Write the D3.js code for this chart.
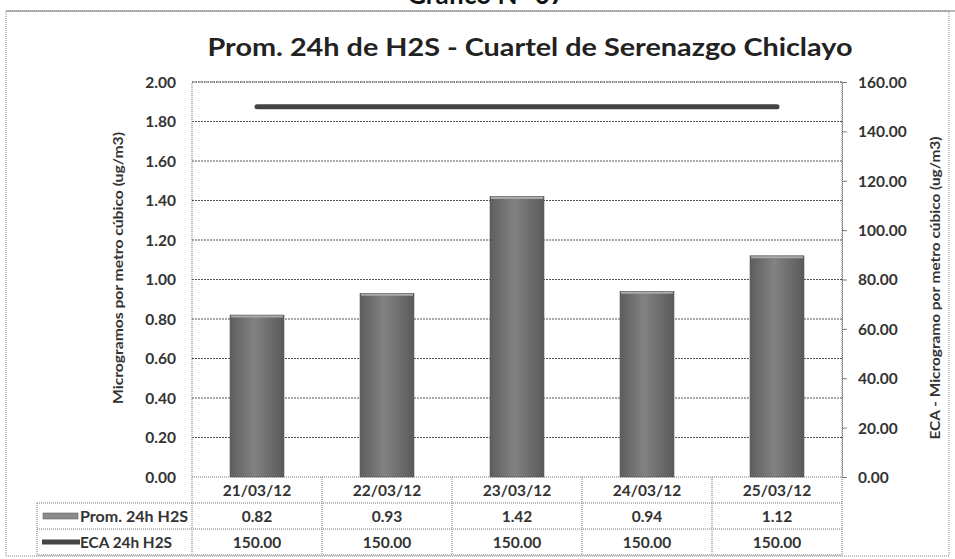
<!DOCTYPE html>
<html>
<head>
<meta charset="utf-8">
<script src="https://cdn.jsdelivr.net/npm/d3@7"></script>
<style>
body { margin: 0; background: #fff; }
svg text { font-family: Lato, "Open Sans", sans-serif; font-weight: bold; }
</style>
</head>
<body>
<svg width="955" height="559"></svg>
<script>
// Prom. 24h H2S chart with data table

var categories = ['21/03/12', '22/03/12', '23/03/12', '24/03/12', '25/03/12']
var promValues = [0.82, 0.93, 1.42, 0.94, 1.12]
var ecaValues = [150.00, 150.00, 150.00, 150.00, 150.00]
var leftTicks = [0, 0.2, 0.4, 0.6, 0.8, 1.0, 1.2, 1.4, 1.6, 1.8, 2.0]
var rightTicks = [0, 20, 40, 60, 80, 100, 120, 140, 160]
var seriesNames = ['Prom. 24h H2S', 'ECA 24h H2S']

var svg = d3.select('svg')

var plot = {left: 192, right: 842, top: 82, bottom: 477}
var rowH = 26

var x = d3.scaleBand().domain(categories).range([plot.left, plot.right]).paddingInner(0).paddingOuter(0)
var yL = d3.scaleLinear().domain([0, 2]).range([plot.bottom, plot.top])
var yR = d3.scaleLinear().domain([0, 160]).range([plot.bottom, plot.top])

var defs = svg.append('defs')
var grad = defs.append('linearGradient').attr('id', 'barGrad')
	.attr('x1', 0).attr('x2', 1).attr('y1', 0).attr('y2', 0)
grad.append('stop').attr('offset', '0%').attr('stop-color', '#5e5e5e')
grad.append('stop').attr('offset', '45%').attr('stop-color', '#828282')
grad.append('stop').attr('offset', '100%').attr('stop-color', '#5a5a5a')

// outer frame
svg.append('rect').attr('x', 6).attr('y', 11).attr('width', 943).attr('height', 545)
	.attr('fill', 'none').attr('stroke', '#888').attr('stroke-dasharray', '1,1')
svg.append('line').attr('x1', 6).attr('x2', 955).attr('y1', 11).attr('y2', 11)
	.attr('stroke', '#777').attr('stroke-width', 1.2)

// heading cut at top (as in the scan)
svg.append('text').attr('x', 486).attr('y', 4).attr('text-anchor', 'middle')
	.attr('font-size', 26).attr('fill', '#111').text('Gráfico N° 07')

svg.append('text').attr('x', 530).attr('y', 56).attr('text-anchor', 'middle')
	.attr('font-size', 25).attr('fill', '#222')
	.attr('textLength', 645).attr('lengthAdjust', 'spacingAndGlyphs')
	.text('Prom. 24h de H2S - Cuartel de Serenazgo Chiclayo')

// plot border
svg.append('rect').attr('x', plot.left).attr('y', plot.top)
	.attr('width', plot.right - plot.left).attr('height', plot.bottom - plot.top)
	.attr('fill', 'none').attr('stroke', '#777').attr('stroke-dasharray', '1,1')

// gridlines
svg.append('g').selectAll('line').data(leftTicks.slice(1)).enter().append('line')
	.attr('x1', plot.left).attr('x2', plot.right)
	.attr('y1', function(d) { return yL(d) }).attr('y2', function(d) { return yL(d) })
	.attr('stroke', '#555').attr('stroke-width', 1).attr('stroke-dasharray', '2,1')

// left axis labels
var axL = svg.append('g').attr('transform', 'translate(' + plot.left + ',0)')
	.call(d3.axisLeft(yL).tickValues(leftTicks).tickSize(0).tickPadding(16).tickFormat(d3.format('.2f')))
axL.select('.domain').remove()
axL.selectAll('text').attr('font-size', 15.5).attr('fill', '#333')
	.attr('font-family', 'Lato, sans-serif').attr('font-weight', 'bold').attr('dy', '0.35em')

// right axis
var axR = svg.append('g').attr('transform', 'translate(' + plot.right + ',0)')
	.call(d3.axisRight(yR).tickValues(rightTicks).tickSize(5).tickPadding(11).tickFormat(d3.format('.2f')))
axR.select('.domain').attr('stroke', '#777').attr('stroke-dasharray', '1,1')
axR.selectAll('.tick line').attr('stroke', '#777')
axR.selectAll('text').attr('font-size', 15.5).attr('fill', '#333')
	.attr('font-family', 'Lato, sans-serif').attr('font-weight', 'bold').attr('dy', '0.35em')

// axis titles
svg.append('text').attr('transform', 'translate(123,268) rotate(-90)')
	.attr('text-anchor', 'middle').attr('font-size', 13.5).attr('fill', '#333')
	.attr('textLength', 272).attr('lengthAdjust', 'spacingAndGlyphs')
	.text('Microgramos por metro cúbico (ug/m3)')
svg.append('text').attr('transform', 'translate(940,288) rotate(-90)')
	.attr('text-anchor', 'middle').attr('font-size', 13.5).attr('fill', '#333')
	.attr('textLength', 303).attr('lengthAdjust', 'spacingAndGlyphs')
	.text('ECA - Microgramo por metro cúbico (ug/m3)')

// bars
var barW = x.bandwidth() * 0.415
svg.append('g').selectAll('rect').data(promValues).enter().append('rect')
	.attr('x', function(d, i) { return x(categories[i]) + x.bandwidth() / 2 - barW / 2 })
	.attr('y', function(d) { return yL(d) })
	.attr('width', barW)
	.attr('height', function(d) { return plot.bottom - yL(d) })
	.attr('fill', 'url(#barGrad)').attr('stroke', '#555').attr('stroke-width', 0.6)
svg.append('g').selectAll('line').data(promValues).enter().append('line')
	.attr('x1', function(d, i) { return x(categories[i]) + x.bandwidth() / 2 - barW / 2 + 1 })
	.attr('x2', function(d, i) { return x(categories[i]) + x.bandwidth() / 2 + barW / 2 - 1 })
	.attr('y1', function(d) { return yL(d) + 1.5 }).attr('y2', function(d) { return yL(d) + 1.5 })
	.attr('stroke', '#aaa').attr('stroke-width', 2)

// ECA line
var line = d3.line()
	.x(function(d, i) { return x(categories[i]) + x.bandwidth() / 2 })
	.y(function(d) { return yR(d) })
svg.append('path').datum(ecaValues).attr('d', line)
	.attr('fill', 'none').attr('stroke', '#444').attr('stroke-width', 5).attr('stroke-linecap', 'round')

// data table
var tbl = svg.append('g')
var tblLeft = 37
var rows = [categories, promValues.map(d3.format('.2f')), ecaValues.map(d3.format('.2f'))]

function hline(x1, x2, y) {
	tbl.append('line').attr('x1', x1).attr('x2', x2).attr('y1', y).attr('y2', y)
		.attr('stroke', '#777').attr('stroke-dasharray', '1,1')
}
function vline(xp, y1, y2) {
	tbl.append('line').attr('x1', xp).attr('x2', xp).attr('y1', y1).attr('y2', y2)
		.attr('stroke', '#777').attr('stroke-dasharray', '1,1')
}
hline(tblLeft, plot.right, plot.bottom + rowH)
hline(tblLeft, plot.right, plot.bottom + rowH * 2)
hline(tblLeft, plot.right, plot.bottom + rowH * 3)
vline(tblLeft, plot.bottom + rowH, plot.bottom + rowH * 3)
categories.forEach(function(c) { vline(x(c), plot.bottom, plot.bottom + rowH * 3) })
vline(plot.right, plot.bottom, plot.bottom + rowH * 3)

rows.forEach(function(r, ri) {
	tbl.selectAll('.cell' + ri).data(r).enter().append('text')
		.attr('x', function(d, i) { return x(categories[i]) + x.bandwidth() / 2 })
		.attr('y', plot.bottom + rowH * ri + 19)
		.attr('text-anchor', 'middle').attr('font-size', 15.5).attr('fill', '#333')
		.text(function(d) { return d })
})

// legend keys in table
tbl.append('rect').attr('x', 43).attr('y', plot.bottom + rowH + 10).attr('width', 35).attr('height', 6)
	.attr('fill', '#8a8a8a').attr('stroke', '#666').attr('stroke-width', 0.6)
tbl.append('line').attr('x1', 42).attr('x2', 80)
	.attr('y1', plot.bottom + rowH * 2 + 13).attr('y2', plot.bottom + rowH * 2 + 13)
	.attr('stroke', '#444').attr('stroke-width', 5)
seriesNames.forEach(function(s, i) {
	tbl.append('text').attr('x', 80).attr('y', plot.bottom + rowH * (i + 1) + 19)
		.attr('font-size', 15).attr('fill', '#333')
		.attr('textLength', i === 0 ? 108 : 92).attr('lengthAdjust', 'spacingAndGlyphs')
		.text(s)
})
</script>
</body>
</html>
